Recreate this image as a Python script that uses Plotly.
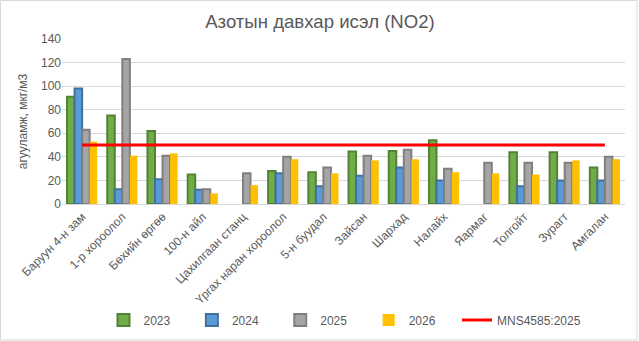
import plotly.graph_objects as go

categories = ["Баруун 4-н зам", "1-р хороолол", "Бөхийн өргөө", "100-н айл",
              "Цахилгаан станц", "Үргах наран хороолол", "5-н буудал", "Зайсан",
              "Шархад", "Налайх", "Яармаг", "Толгойт", "Зурагт", "Амгалан"]
v2023 = [91, 75, 62, 25, None, 28, 27, 44.5, 45, 54, None, 44, 44, 31]
v2024 = [98, 12.5, 21, 12, None, 26, 15, 24, 31, 20, None, 15, 20, 20]
v2025 = [63, 123, 41, 12.5, 26, 40, 31, 41, 46, 30, 35, 35, 35, 40]
v2026 = [53, 41, 43, 9, 16, 38, 26, 37, 38, 27, 26, 25, 37, 38]
standard = [50] * len(categories)

W, H = 639, 341
ml, mr, mt, mb = 62, 14, 39, 137
pw, ph = W - ml - mr, H - mt - mb
pad = "\u00a0" * 5

fig = go.Figure()
styles = [
    ("2023", v2023, "#70AD47", "#548235", 2),
    ("2024", v2024, "#5B9BD5", "#41719C", 2),
    ("2025", v2025, "#A5A5A5", "#7F7F7F", 2),
    ("2026", v2026, "#FFC000", "#FFC000", 0),
]
for name, vals, fill, edge, lw in styles:
    fig.add_trace(go.Bar(x=categories, y=vals, name=name + pad,
                         marker=dict(color=fill, line=dict(color=edge, width=lw))))
fig.add_trace(go.Scatter(x=categories, y=standard, name="MNS4585:2025", mode="lines",
                         line=dict(color="#FF0000", width=3)))

fig.update_layout(
    width=W, height=H,
    margin=dict(l=ml, r=mr, t=mt, b=mb, autoexpand=False),
    paper_bgcolor="white", plot_bgcolor="white",
    font=dict(family="Liberation Sans, Arial, sans-serif", color="#595959", size=12),
    title=dict(text="Азотын давхар исэл (NO2)", x=(320 / W), xanchor="center",
               y=1 - 21 / H, yanchor="middle",
               font=dict(size=18.6, color="#595959")),
    barmode="group", bargap=0.25, bargroupgap=0,
    showlegend=True,
    legend=dict(orientation="h", x=(345 - ml) / pw, xanchor="center",
                y=(mt + ph - 320) / ph, yanchor="middle",
                bgcolor="rgba(0,0,0,0)",
                font=dict(size=12, color="#595959"),
                traceorder="normal"),
    xaxis=dict(tickangle=-45, showgrid=False, showline=True, linecolor="#D9D9D9",
               linewidth=1, ticks="", automargin=False,
               tickfont=dict(size=12, color="#595959")),
    yaxis=dict(range=[0, 140], dtick=20, showgrid=True, gridcolor="#D9D9D9", gridwidth=1,
               zeroline=False, showline=False, ticks="", automargin=False,
               tickfont=dict(size=12, color="#595959"),
               title=dict(text="агууламж, мкг/м3", font=dict(size=12, color="#595959"),
                          standoff=10)),
    shapes=[dict(type="rect", xref="paper", yref="paper",
                 x0=(0.5 - ml) / pw, x1=(637 - ml) / pw,
                 y0=(mt + ph - 340) / ph, y1=(mt + ph - 0.5) / ph,
                 line=dict(color="#D9D9D9", width=1), fillcolor="rgba(0,0,0,0)", layer="below")],
)

fig.write_html("out.html")
